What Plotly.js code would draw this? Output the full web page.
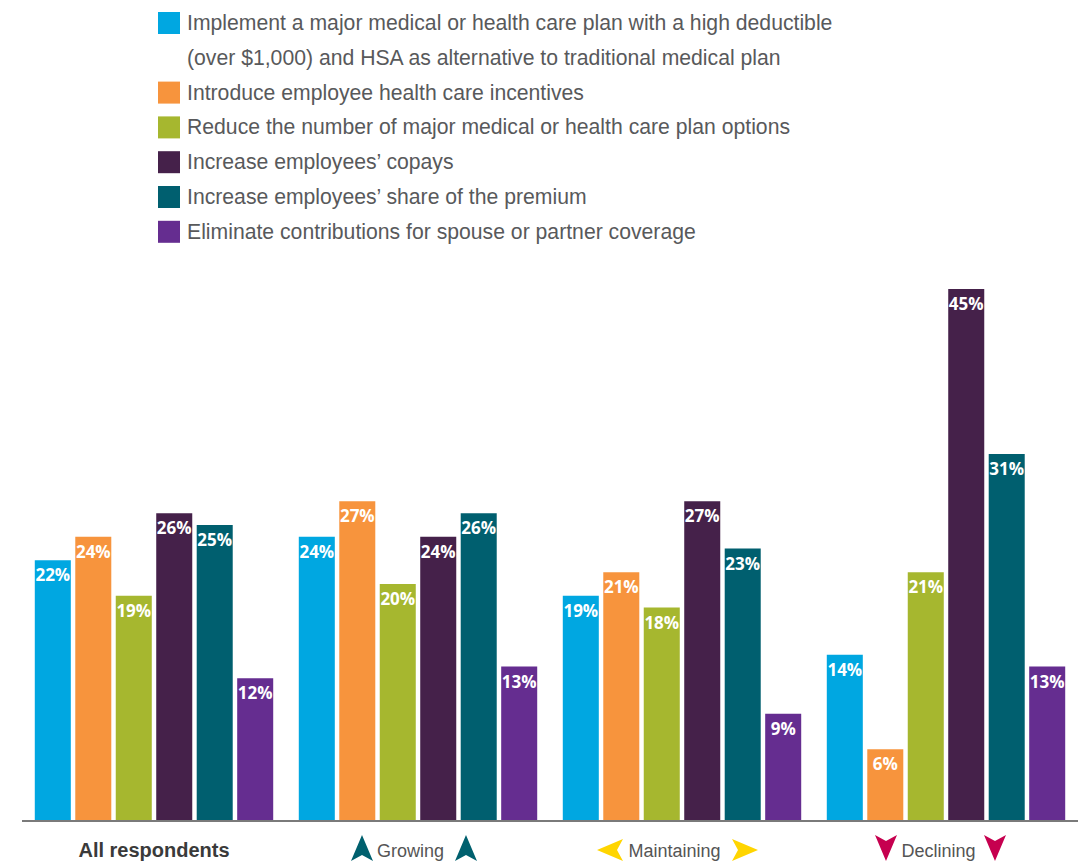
<!DOCTYPE html>
<html>
<head>
<meta charset="utf-8">
<script src="https://cdn.plot.ly/plotly-3.0.1.min.js"></script>
<style>html,body{margin:0;padding:0;background:#fff;}#chart{width:1080px;height:864px;}</style>
</head>
<body>
<div id="chart"></div>
<script>
// ---- data ----
const categories = ['All respondents', 'Growing', 'Maintaining', 'Declining'];
const seriesNames = [
  'Implement a major medical or health care plan with a high deductible<br>(over $1,000) and HSA as alternative to traditional medical plan',
  'Introduce employee health care incentives',
  'Reduce the number of major medical or health care plan options',
  'Increase employees\u2019 copays',
  'Increase employees\u2019 share of the premium',
  'Eliminate contributions for spouse or partner coverage'
];
const hdhpValues       = [22, 24, 19, 14];
const incentiveValues  = [24, 27, 21, 6];
const reduceValues     = [19, 20, 18, 21];
const copayValues      = [26, 24, 27, 45];
const premiumValues    = [25, 26, 23, 31];
const spouseValues     = [12, 13, 9, 13];
const seriesValues = [hdhpValues, incentiveValues, reduceValues, copayValues, premiumValues, spouseValues];
const seriesColors = ['#00a7e1', '#f7943d', '#a6b72f', '#45214a', '#005f6f', '#652d90'];
const tickLabels = ['<span style="font-size:20px;color:#3a3a3a"><b>All respondents</b></span>',
  'Growing\u00a0\u00a0\u00a0', 'Maintaining\u00a0\u00a0\u00a0', 'Declining\u00a0\u00a0\u00a0'];

// ---- layout geometry ----
const W = 1080, H = 864;
const M = {l: 22, r: 2, t: 270, b: 44};
const PW = W - M.l - M.r, PH = H - M.t - M.b;
const px = x => (x - M.l) / PW;
const py = y => (H - M.b - y) / PH;

const traces = seriesValues.map((vals, i) => ({
  type: 'bar',
  x: categories,
  y: vals,
  name: seriesNames[i],
  marker: {color: seriesColors[i]},
  texttemplate: '%{y}%',
  textposition: 'inside',
  insidetextanchor: 'end',
  constraintext: 'none',
  textangle: 0,
  textfont: {color: '#ffffff', family: 'Open Sans, Arial, sans-serif', size: 17, weight: 'bold'},
  hoverinfo: 'name+y',
  showlegend: false
}));

// legend drawn as shapes + annotations
const shapes = [];
const annotations = [];
let rowY = 23;
seriesNames.forEach((name, i) => {
  shapes.push({type: 'rect', xref: 'paper', yref: 'paper',
    x0: px(158), x1: px(180), y0: py(rowY + 11), y1: py(rowY - 11),
    fillcolor: seriesColors[i], line: {width: 0}});
  name.split('<br>').forEach(line => {
    annotations.push({xref: 'paper', yref: 'paper', x: px(185), y: py(rowY),
      xanchor: 'left', yanchor: 'middle', showarrow: false, text: line,
      font: {family: 'Liberation Sans, Arial, sans-serif', size: 21.2, color: '#58595b'}});
    rowY += 34.8;
  });
});

// category arrow icons
function arrow(cx, cy, dir, color) {
  const hw = 11, hl = 13, notch = 6;
  let pts;
  if (dir === 'up')    pts = [[cx, cy - hl], [cx + hw, cy + hl], [cx, cy + hl - notch], [cx - hw, cy + hl]];
  if (dir === 'down')  pts = [[cx, cy + hl], [cx + hw, cy - hl], [cx, cy - hl + notch], [cx - hw, cy - hl]];
  if (dir === 'left')  pts = [[cx - hl, cy], [cx + hl, cy - hw], [cx + hl - notch, cy], [cx + hl, cy + hw]];
  if (dir === 'right') pts = [[cx + hl, cy], [cx - hl, cy - hw], [cx - hl + notch, cy], [cx - hl, cy + hw]];
  const path = 'M' + pts.map(p => px(p[0]).toFixed(5) + ',' + py(p[1]).toFixed(5)).join(' L') + ' Z';
  shapes.push({type: 'path', xref: 'paper', yref: 'paper', path: path, fillcolor: color, line: {width: 0}});
}
arrow(362, 848, 'up', '#00606e');
arrow(466, 848, 'up', '#00606e');
arrow(610, 850, 'left', '#ffd500');
arrow(745, 850, 'right', '#ffd500');
arrow(886, 848, 'down', '#c6004f');
arrow(995, 848, 'down', '#c6004f');

const layout = {
  width: W, height: H,
  margin: M,
  paper_bgcolor: '#ffffff',
  plot_bgcolor: '#ffffff',
  barmode: 'group',
  bargap: 0.08,
  bargroupgap: 0.11,
  xaxis: {
    type: 'category',
    tickvals: categories,
    ticktext: tickLabels,
    showline: true, linecolor: '#7a7a7a', linewidth: 2,
    ticks: '', showgrid: false, zeroline: false,
    ticklabelstandoff: 13,
    tickfont: {family: 'Liberation Sans, Arial, sans-serif', size: 18, color: '#555555'}
  },
  yaxis: {
    range: [0, 46.6],
    visible: false, showgrid: false, zeroline: false, fixedrange: true
  },
  shapes: shapes,
  annotations: annotations,
  showlegend: false
};

Plotly.newPlot('chart', traces, layout, {displayModeBar: false, staticPlot: true});
</script>
</body>
</html>
